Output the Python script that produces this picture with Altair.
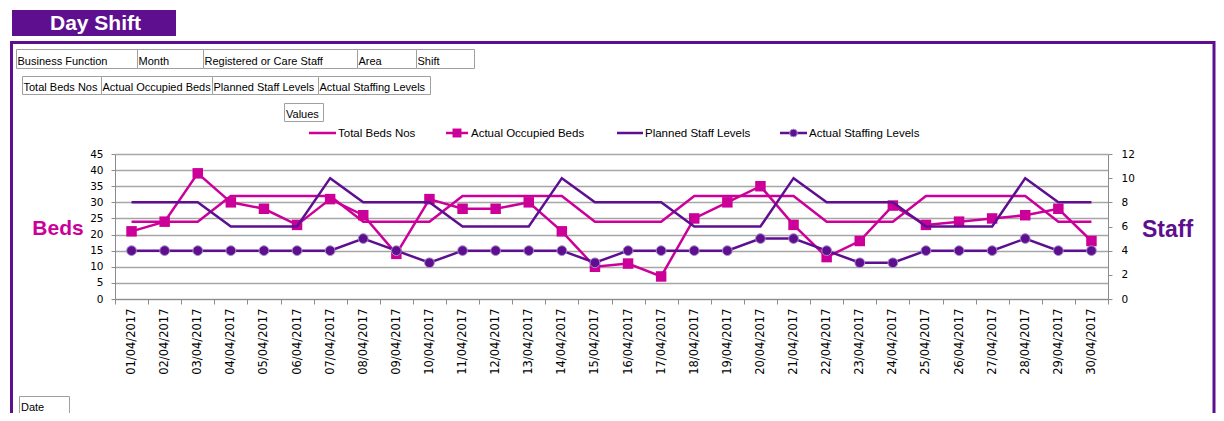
import altair as alt
import pandas as pd

# ---------------- data ----------------
dates = ["01/04/2017", "02/04/2017", "03/04/2017", "04/04/2017", "05/04/2017",
         "06/04/2017", "07/04/2017", "08/04/2017", "09/04/2017", "10/04/2017",
         "11/04/2017", "12/04/2017", "13/04/2017", "14/04/2017", "15/04/2017",
         "16/04/2017", "17/04/2017", "18/04/2017", "19/04/2017", "20/04/2017",
         "21/04/2017", "22/04/2017", "23/04/2017", "24/04/2017", "25/04/2017",
         "26/04/2017", "27/04/2017", "28/04/2017", "29/04/2017", "30/04/2017"]
total_beds = [24, 24, 24, 32, 32, 32, 32, 24, 24, 24, 32, 32, 32, 32, 24,
              24, 24, 32, 32, 32, 32, 24, 24, 24, 32, 32, 32, 32, 24, 24]
occupied_beds = [21, 24, 39, 30, 28, 23, 31, 26, 14, 31, 28, 28, 30, 21, 10,
                 11, 7, 25, 30, 35, 23, 13, 18, 29, 23, 24, 25, 26, 28, 18]
planned_staff = [8, 8, 8, 6, 6, 6, 10, 8, 8, 8, 6, 6, 6, 10, 8,
                 8, 8, 6, 6, 6, 10, 8, 8, 8, 6, 6, 6, 10, 8, 8]
actual_staff = [4, 4, 4, 4, 4, 4, 4, 5, 4, 3, 4, 4, 4, 4, 3,
                4, 4, 4, 4, 5, 5, 4, 3, 3, 4, 4, 4, 5, 4, 4]

series_names = ["Total Beds Nos", "Actual Occupied Beds",
                "Planned Staff Levels", "Actual Staffing Levels"]
row1_fields = ["Business Function", "Month", "Registered or Care Staff", "Area", "Shift"]
row2_fields = ["Total Beds Nos", "Actual Occupied Beds", "Planned Staff Levels", "Actual Staffing Levels"]

df = pd.DataFrame({"Date": dates, "tb": total_beds, "ob": occupied_beds,
                   "ps": planned_staff, "asl": actual_staff})

# ---------------- style / layout ----------------
PINK = "#CC0099"
PURPLE = "#5E0F90"
GRID = "#A6A6A6"
AXIS = "#8C8C8C"
UI_FONT = "Liberation Sans"
OX, OY = 115, 154          # plot origin (page coords)
PW, PH = 993, 145          # plot size


def px(a):
    return a - OX


def py(a):
    return a - OY


one = pd.DataFrame({"k": [0]})


def rect(x1, x2, y1, y2, fill=None, stroke=None, sw=1):
    kw = {}
    if fill is not None:
        kw["fill"] = fill
    else:
        kw["fillOpacity"] = 0
        kw["fill"] = "white"
    if stroke is not None:
        kw["stroke"] = stroke
        kw["strokeWidth"] = sw
    return alt.Chart(one).mark_rect(**kw).encode(
        x=alt.value(px(x1)), x2=alt.value(px(x2)),
        y=alt.value(py(y1)), y2=alt.value(py(y2)))


def text(s, x, y, size=11.5, color="#000000", bold=False, align="left", font=UI_FONT):
    return alt.Chart(one).mark_text(
        align=align, baseline="alphabetic", font=font, fontSize=size,
        fontWeight="bold" if bold else "normal", color=color).encode(
        x=alt.value(px(x)), y=alt.value(py(y)), text=alt.value(s))


def hline(x1, x2, y, color, sw=2.5):
    return alt.Chart(one).mark_rule(color=color, strokeWidth=sw).encode(
        x=alt.value(px(x1)), x2=alt.value(px(x2)), y=alt.value(py(y)))


def marker(shape, x, y, color, size, stroke=None):
    kw = dict(shape=shape, filled=True, color=color, size=size, opacity=1)
    if stroke:
        kw.update(stroke=stroke, strokeWidth=1)
    return alt.Chart(one).mark_point(**kw).encode(
        x=alt.value(px(x)), y=alt.value(py(y)))


# ---------------- data layers ----------------
x_enc = alt.X("Date:N", sort=dates, title=None,
              scale=alt.Scale(type="band", paddingInner=0, paddingOuter=0),
              axis=alt.Axis(labelAngle=270, labelFont="DejaVu Sans", labelFontSize=11.5,
                            labelColor="#000000", labelPadding=4, labelOverlap=False,
                            tickBand="extent", tickSize=5, tickColor=AXIS,
                            domainColor=AXIS, grid=False))

beds_scale = alt.Scale(domain=[0, 45], nice=False, zero=True)
staff_scale = alt.Scale(domain=[0, 12], nice=False, zero=True)

base = alt.Chart(df)

l_tb = base.mark_line(color=PINK, strokeWidth=2.5).encode(
    x=x_enc,
    y=alt.Y("tb:Q", scale=beds_scale, title=None,
            axis=alt.Axis(values=list(range(0, 50, 5)), grid=True, gridColor=GRID,
                          gridWidth=1.5, tickSize=4, tickColor=AXIS, domainColor=AXIS,
                          labelFont="DejaVu Sans", labelFontSize=10.5, labelColor="#000000",
                          labelPadding=8)))
l_ob = base.mark_line(color=PINK, strokeWidth=2.5).encode(
    x=x_enc, y=alt.Y("ob:Q", scale=beds_scale, axis=None))
p_ob = base.mark_point(shape="square", filled=True, color=PINK, size=110, opacity=1).encode(
    x=x_enc, y=alt.Y("ob:Q", scale=beds_scale, axis=None))
l_ps = base.mark_line(color=PURPLE, strokeWidth=2.5).encode(
    x=x_enc,
    y=alt.Y("ps:Q", scale=staff_scale, title=None,
            axis=alt.Axis(orient="right", values=list(range(0, 14, 2)), grid=False,
                          tickSize=4, tickColor=AXIS, domainColor=AXIS,
                          labelFont="DejaVu Sans", labelFontSize=10.5, labelColor="#000000",
                          labelPadding=9)))
l_as = base.mark_line(color=PURPLE, strokeWidth=2.5).encode(
    x=x_enc, y=alt.Y("asl:Q", scale=staff_scale, axis=None))
p_as = base.mark_point(shape="circle", filled=True, color=PURPLE, size=95, opacity=1,
                       stroke="#A58CC8", strokeWidth=1).encode(
    x=x_enc, y=alt.Y("asl:Q", scale=staff_scale, axis=None))

# ---------------- decorations ----------------
deco = []
# banner
deco.append(rect(12, 176, 10, 36, fill=PURPLE))
deco.append(text("Day Shift", 95.5, 29.5, size=21, color="white", bold=True, align="center"))
# inner frame
deco.append(rect(11.5, 1214, 42.5, 450, stroke=PURPLE, sw=3))

# pivot field buttons
BTN = 11
row1_edges = [16, 137, 203, 357, 416, 474]
for i, name in enumerate(row1_fields):
    deco.append(rect(row1_edges[i] + 0.5, row1_edges[i + 1] + 0.5, 49.5, 68.5, fill="white", stroke="#A0A0A0"))
    deco.append(text(name, row1_edges[i] + 1.5, 65, size=BTN))
row2_edges = [22, 101, 212, 318, 430]
for i, name in enumerate(row2_fields):
    deco.append(rect(row2_edges[i] + 0.5, row2_edges[i + 1] + 0.5, 76.5, 94.5, fill="white", stroke="#A0A0A0"))
    deco.append(text(name, row2_edges[i] + 1.5, 91, size=BTN))
deco.append(rect(284.5, 323.5, 103.5, 121.5, fill="white", stroke="#A0A0A0"))
deco.append(text("Values", 286, 118, size=BTN))
deco.append(rect(19.5, 69.5, 396.5, 414.5, fill="white", stroke="#A0A0A0"))
deco.append(text("Date", 21, 411, size=BTN))

# legend
LY = 133
deco.append(hline(309, 336, LY, PINK))
deco.append(text(series_names[0], 338, LY + 4))
deco.append(hline(446, 468, LY, PINK))
deco.append(marker("square", 457, LY, PINK, 80))
deco.append(text(series_names[1], 471, LY + 4))
deco.append(hline(617, 643, LY, PURPLE))
deco.append(text(series_names[2], 645, LY + 4))
deco.append(hline(780, 807, LY, PURPLE))
deco.append(marker("circle", 793.5, LY, PURPLE, 60, stroke="#A58CC8"))
deco.append(text(series_names[3], 809, LY + 4))

# axis titles
deco.append(text("Beds", 58, 235, size=21, color=PINK, bold=True, align="center"))
deco.append(text("Staff", 1142, 236.5, size=23, color=PURPLE, bold=True))

chart = alt.layer(*deco, l_tb, l_ob, p_ob, l_ps, l_as, p_as).resolve_scale(
    y="independent"
).properties(
    width=PW, height=PH,
    padding={"left": OX - 8, "top": OY - 8, "right": 1208 - (OX - 8) - PW,
             "bottom": 405 - (OY - 8) - PH},
    autosize=alt.AutoSizeParams(type="none"),
    background="white",
).configure_view(stroke=None)

chart.save("out.html", embed_options={"renderer": "svg", "actions": False})
